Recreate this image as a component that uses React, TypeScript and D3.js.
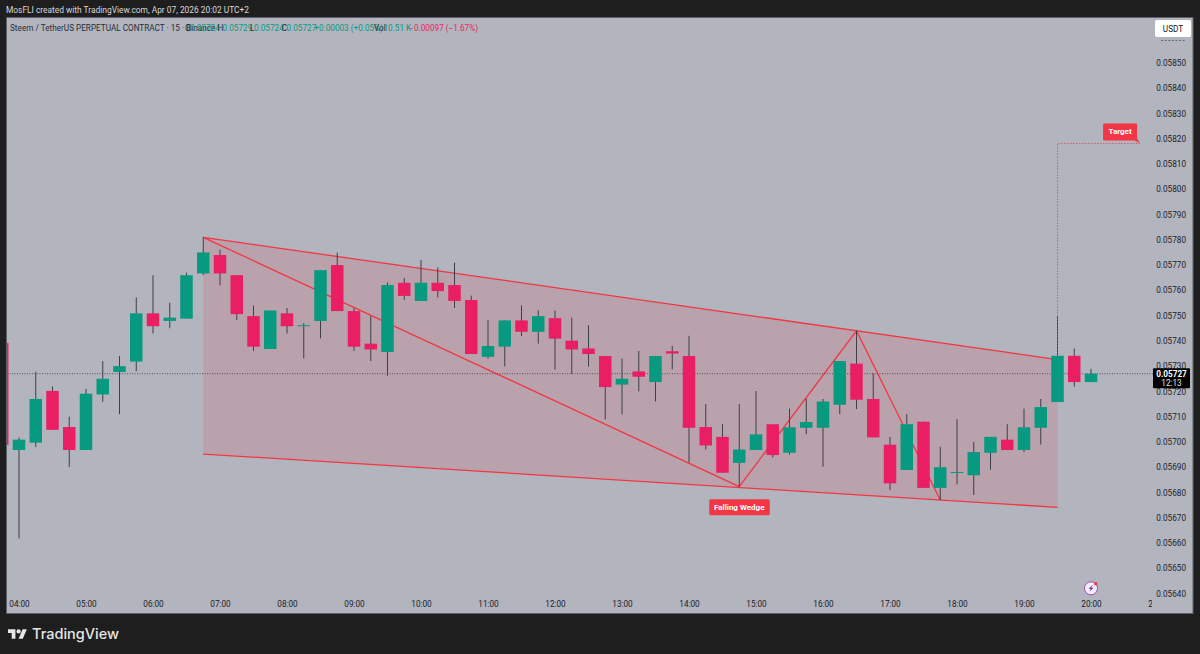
import * as d3 from 'd3';
import { useRef, useEffect } from 'react';

// prices are in units of 0.00001 USDT, first candle is the clipped 03:45 one
const opens = [5739.2, 5696.8, 5699.7, 5720.2, 5705.9, 5696.8, 5718.8, 5727.7, 5731.8, 5750.9, 5747.9, 5748.8, 5766.7, 5774, 5766, 5749.8, 5736.8, 5750.9, 5745.8, 5747.9, 5770, 5751.8, 5738.9, 5735.6, 5763, 5755.8, 5763, 5762.1, 5756.2, 5733.7, 5737.7, 5748.1, 5743.6, 5749, 5740.1, 5737, 5734, 5722.7, 5727.9, 5723.7, 5735.9, 5734, 5705.9, 5702, 5691.7, 5696.8, 5707, 5695.7, 5705.6, 5705.6, 5714.7, 5731, 5717, 5698.9, 5688.9, 5708, 5681.8, 5687.7, 5686.8, 5695.7, 5700.9, 5696.8, 5705.6, 5715.8, 5734.1, 5723.7];
const highs = [5739.2, 5701.8, 5727.8, 5721.9, 5710, 5721, 5732, 5734, 5757.2, 5766, 5755.1, 5767, 5781, 5776.1, 5766, 5754, 5752, 5753, 5747, 5768, 5775, 5752.9, 5749.8, 5763.2, 5764.9, 5772, 5769.1, 5771, 5757.9, 5748.3, 5748.1, 5754, 5752.1, 5752, 5749.2, 5746.2, 5734, 5733, 5736, 5734, 5738, 5742, 5715, 5707, 5715, 5720.1, 5707, 5713.2, 5717.1, 5717, 5732, 5744, 5727.1, 5702, 5711, 5708, 5698.1, 5709, 5700, 5702, 5707, 5713.2, 5717, 5750, 5737, 5728.9];
const lows = [5698.8, 5661.8, 5698, 5704.8, 5690.1, 5696.8, 5715.9, 5711, 5728, 5742.9, 5745, 5748.8, 5766, 5762, 5748.3, 5736, 5736.8, 5742.9, 5733, 5741, 5751.8, 5736, 5732, 5726.2, 5756.2, 5755.8, 5757.2, 5753, 5734.8, 5733, 5729.9, 5741.9, 5738.9, 5728.7, 5726.9, 5729.8, 5708.9, 5710.9, 5720, 5716, 5728.7, 5691.9, 5697, 5687.8, 5682.3, 5696.8, 5693.9, 5695, 5703, 5690.2, 5711, 5713, 5701.8, 5681, 5688.9, 5681.8, 5677, 5683.2, 5679, 5689, 5696.8, 5696, 5699, 5715.8, 5721.9, 5723.7];
const closes = [5698.8, 5700.9, 5717, 5704.8, 5696.8, 5719.1, 5725, 5730, 5750.9, 5745.8, 5749.2, 5766, 5775, 5766.7, 5750.6, 5737.7, 5752, 5745.8, 5746.2, 5768, 5751.8, 5737.7, 5736.6, 5762.1, 5757.8, 5763, 5759.7, 5755.8, 5734.8, 5738, 5748.1, 5743.6, 5749.8, 5740.9, 5736.6, 5734.8, 5721.7, 5725, 5725.8, 5734, 5735, 5705.6, 5698.6, 5687.8, 5697, 5703, 5694.8, 5705.8, 5707.9, 5716, 5732, 5716.7, 5701.8, 5683.6, 5707, 5681.8, 5690, 5688.1, 5696, 5702, 5696.8, 5705.8, 5713.8, 5734.1, 5723.7, 5727];

const hourLabels = ['04:00', '05:00', '06:00', '07:00', '08:00', '09:00', '10:00', '11:00', '12:00', '13:00', '14:00', '15:00', '16:00', '17:00', '18:00', '19:00', '20:00', '21:00'];
const priceTicks = d3.range(5640, 5851, 10);
const lastPrice = 5727;

// drawings: [candle index from 04:00, price]
const wedgeUpper: [number, number][] = [[11, 5781], [62, 5732.6]];
const wedgeLower: [number, number][] = [[11, 5695.2], [62, 5674.1]];
const zigzag: [number, number][] = [[11, 5781], [43, 5682.3], [50, 5744], [55, 5677]];
const targetPath: [number, number][] = [[62, 5734.1], [62, 5818.1], [66.93, 5818.1]];

const GREEN = '#089981';
const PINK = '#e91e63';
const RED = '#f23645';
const FONT = 'Roboto, sans-serif';

const App = () => {
  const ref = useRef<SVGSVGElement>(null);

  useEffect(() => {
    if (!ref.current) return;
    const svg = d3.select(ref.current);
    svg.selectAll('*').remove();

    const x = d3.scaleLinear().domain([0, 64]).range([19, 1091]);
    const y = d3.scaleLinear().domain([5640, 5850]).range([593.5, 63]);
    const line = d3.line<[number, number]>().x(d => x(d[0])).y(d => y(d[1]));

    // frame
    svg.append('rect').attr('width', 1200).attr('height', 654).attr('fill', '#1e1e1e');
    svg.append('rect').attr('x', 6.5).attr('y', 17.5).attr('width', 1186.5).attr('height', 596)
      .attr('fill', '#b2b5be').attr('stroke', '#5d606b').attr('stroke-width', 1);

    const defs = svg.append('defs');
    defs.append('clipPath').attr('id', 'plot').append('rect')
      .attr('x', 7).attr('y', 18).attr('width', 1146).attr('height', 595);
    defs.append('clipPath').attr('id', 'timeaxis').append('rect')
      .attr('x', 7).attr('y', 595).attr('width', 1145).attr('height', 18);

    const plot = svg.append('g').attr('clip-path', 'url(#plot)');

    // wedge area and lines sit under the candles
    plot.append('path')
      .attr('d', line([...wedgeUpper, wedgeLower[1], wedgeLower[0]]))
      .attr('fill', 'rgba(230,54,69,0.15)');

    [wedgeUpper, wedgeLower, zigzag].forEach(pts => {
      plot.append('path').attr('d', line(pts)).attr('fill', 'none')
        .attr('stroke', RED).attr('stroke-width', 1.3);
    });

    // current price line
    plot.append('line')
      .attr('x1', 7).attr('x2', 1153)
      .attr('y1', y(lastPrice)).attr('y2', y(lastPrice))
      .attr('stroke', '#3a3d45').attr('stroke-width', 0.8).attr('stroke-dasharray', '1 1.5');

    // candles
    const candles = opens.map((o, i) => ({ i: i - 1, o, h: highs[i], l: lows[i], c: closes[i] }));
    const bodyW = 12.5;

    plot.selectAll('.wick').data(candles).join('line')
      .attr('class', 'wick')
      .attr('x1', d => x(d.i)).attr('x2', d => x(d.i))
      .attr('y1', d => y(d.h)).attr('y2', d => y(d.l))
      .attr('stroke', '#3d3f49').attr('stroke-width', 1);

    plot.selectAll('.body').data(candles).join('rect')
      .attr('class', 'body')
      .attr('x', d => x(d.i) - bodyW / 2)
      .attr('width', bodyW)
      .attr('y', d => y(Math.max(d.o, d.c)))
      .attr('height', d => Math.max(1, Math.abs(y(d.o) - y(d.c))))
      .attr('fill', d => (d.c >= d.o ? GREEN : PINK));

    // target
    plot.append('path').attr('d', line(targetPath)).attr('fill', 'none')
      .attr('stroke', '#e0405a').attr('stroke-width', 1).attr('stroke-dasharray', '1.2 1.8');

    const tx = x(targetPath[2][0]);
    const ty = y(targetPath[2][1]);
    plot.append('path')
      .attr('d', `M${tx - 36} ${ty - 20}h32a1 1 0 0 1 1 1v14l3 5l-5.5 -3h-30.5a1 1 0 0 1 -1 -1v-15a1 1 0 0 1 1 -1z`)
      .attr('fill', RED);
    plot.append('text').attr('x', tx - 20).attr('y', ty - 9.5).attr('text-anchor', 'middle')
      .attr('font-family', FONT).attr('font-size', 8).attr('font-weight', 700).attr('fill', '#fff')
      .text('Target');

    // falling wedge tag
    const wx = x(zigzag[1][0]);
    const wy = y(zigzag[1][1]);
    plot.append('rect').attr('x', wx - 30).attr('y', wy + 12.5).attr('width', 60.5).attr('height', 16)
      .attr('rx', 1.5).attr('fill', RED);
    plot.append('text').attr('x', wx).attr('y', wy + 23.5).attr('text-anchor', 'middle')
      .attr('font-family', FONT).attr('font-size', 8).attr('font-weight', 700).attr('fill', '#fff')
      .text('Falling Wedge');

    // price axis
    const yAxis = svg.append('g').attr('transform', 'translate(1186,0)')
      .call(d3.axisLeft(y).tickValues(priceTicks).tickSize(0).tickPadding(0)
        .tickFormat(v => (Number(v) / 1e5).toFixed(5)));
    yAxis.select('.domain').remove();
    yAxis.selectAll('text').attr('font-family', FONT).attr('font-size', 8.2).attr('fill', '#20222a');

    // time axis
    const xAxis = svg.append('g').attr('clip-path', 'url(#timeaxis)').append('g')
      .attr('transform', 'translate(0,601)')
      .call(d3.axisBottom(x).tickValues(hourLabels.map((_, i) => i * 4)).tickSize(0).tickPadding(0)
        .tickFormat((_, i) => hourLabels[i]));
    xAxis.select('.domain').remove();
    xAxis.selectAll('text').attr('font-family', FONT).attr('font-size', 8.2).attr('fill', '#20222a');

    // clipped label peeking out under the currency button
    svg.append('line').attr('x1', 1161).attr('x2', 1186).attr('y1', 40.5).attr('y2', 40.5)
      .attr('stroke', '#555862').attr('stroke-width', 0.8).attr('stroke-dasharray', '2 1.6');

    svg.append('rect').attr('x', 1155).attr('y', 20).attr('width', 36).attr('height', 17)
      .attr('rx', 2).attr('fill', '#fff');
    svg.append('text').attr('x', 1173).attr('y', 31.8).attr('text-anchor', 'middle')
      .attr('font-family', FONT).attr('font-size', 8.2).attr('fill', '#131722').text('USDT');

    // last price badge
    svg.append('rect').attr('x', 1153).attr('y', y(lastPrice) - 5.5).attr('width', 37).attr('height', 20)
      .attr('rx', 1).attr('fill', '#000');
    svg.append('text').attr('x', 1171.5).attr('y', y(lastPrice) + 2.8).attr('text-anchor', 'middle')
      .attr('font-family', FONT).attr('font-size', 8.2).attr('font-weight', 700).attr('fill', '#fff')
      .text((lastPrice / 1e5).toFixed(5));
    svg.append('text').attr('x', 1171.5).attr('y', y(lastPrice) + 12).attr('text-anchor', 'middle')
      .attr('font-family', FONT).attr('font-size', 8.2).attr('fill', '#e0e0e0').text('12:13');

    // header
    svg.append('text').attr('x', 6).attr('y', 12.5)
      .attr('font-family', FONT).attr('font-size', 8.4).attr('fill', '#d8d8d8')
      .text('MosFLI created with TradingView.com, Apr 07, 2026 20:02 UTC+2');

    // legend
    const legend: [number, string, string][] = [
      [10, 'Steem / TetherUS PERPETUAL CONTRACT · 15 · Binance', '#2a2e39'],
      [185, 'O', '#2a2e39'], [190, '0.05724', GREEN],
      [217.5, 'H', '#2a2e39'], [222.5, '0.05729', GREEN],
      [250, 'L', '#2a2e39'], [254, '0.05724', GREEN],
      [281.7, 'C', '#2a2e39'], [286.5, '0.05727', GREEN],
      [314.3, '+0.00003 (+0.05%)', GREEN],
      [374, 'Vol', '#2a2e39'], [383.5, '10.51 K', GREEN],
      [409.3, '−0.00097 (−1.67%)', PINK],
    ];
    svg.selectAll('.legend').data(legend).join('text')
      .attr('class', 'legend')
      .attr('x', d => d[0]).attr('y', 30.5)
      .attr('font-family', FONT).attr('font-size', 8.2)
      .attr('fill', d => d[2])
      .text(d => d[1]);

    // lightning badge
    const badge = svg.append('g').attr('transform', `translate(${x(64)},588.3)`);
    badge.append('circle').attr('r', 6.5).attr('fill', '#f4eefa').attr('stroke', '#a24bc4').attr('stroke-width', 1);
    badge.append('path').attr('d', 'M1.6 -3.6L-2.4 0.6H-0.2L-1.6 3.6L2.4 -0.6H0.2z').attr('fill', '#7b2fa8');
    badge.append('circle').attr('cx', 4.8).attr('cy', -4.6).attr('r', 1.7).attr('fill', RED);

    // TradingView logo
    const logo = svg.append('g').attr('transform', 'translate(8,627.2) scale(0.53)').attr('fill', '#e6e6e6');
    logo.append('path').attr('d', 'M14 22H7V11H0V4h14v18zM28 22h-8l7.5-18h8L28 22z');
    logo.append('circle').attr('cx', 20).attr('cy', 8).attr('r', 4);
    svg.append('text').attr('x', 32).attr('y', 639.3)
      .attr('font-family', 'Inter, Roboto, sans-serif').attr('font-size', 14.5).attr('font-weight', 500)
      .attr('fill', '#e6e6e6').text('TradingView');
  }, []);

  return <svg ref={ref} width={1200} height={654} style={{ position: 'fixed', left: 0, top: 0 }} />;
};

export default App;
